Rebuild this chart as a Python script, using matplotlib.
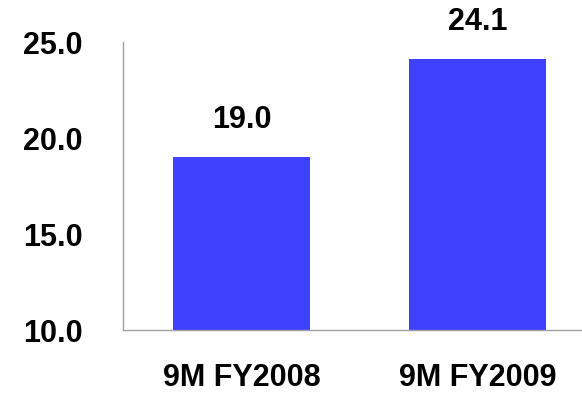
import matplotlib
matplotlib.use("Agg")
import matplotlib.pyplot as plt

categories = ["9M FY2008", "9M FY2009"]
values = [19.0, 24.1]
yticks = [10.0, 15.0, 20.0, 25.0]

plt.rcParams['font.family'] = ['Liberation Sans', 'DejaVu Sans']

fig = plt.figure(figsize=(5.82, 3.95), dpi=100)
ax = fig.add_axes([123/582, 65/395, 1 - 123/582, 288/395])

FS = 22
x = list(range(len(categories)))
ax.bar(x, values, width=0.58, color="#4040FF", bottom=0)
ax.set_ylim(10, 25)
ax.set_xlim(-0.502, 1.443)
ax.set_yticks(yticks)
ax.set_yticklabels([f"{v:.1f}" for v in yticks], fontsize=FS, fontweight="bold")
ax.set_xticks(x)
ax.set_xticklabels(categories, fontsize=FS, fontweight="bold")
ax.tick_params(axis='y', length=0, pad=40 * 0.72)
ax.tick_params(axis='x', length=0, pad=33 * 0.72)

for s in ["top", "right"]:
    ax.spines[s].set_visible(False)
for s in ["left", "bottom"]:
    ax.spines[s].set_color("#A0A0A0")
    ax.spines[s].set_linewidth(1.0)

for xi, v in zip(x, values):
    ax.annotate(f"{v:.1f}", (xi, v), xytext=(0, 22), textcoords="offset pixels",
                ha="center", va="bottom", fontsize=FS, fontweight="bold")

fig.savefig("out.png", dpi=100)
